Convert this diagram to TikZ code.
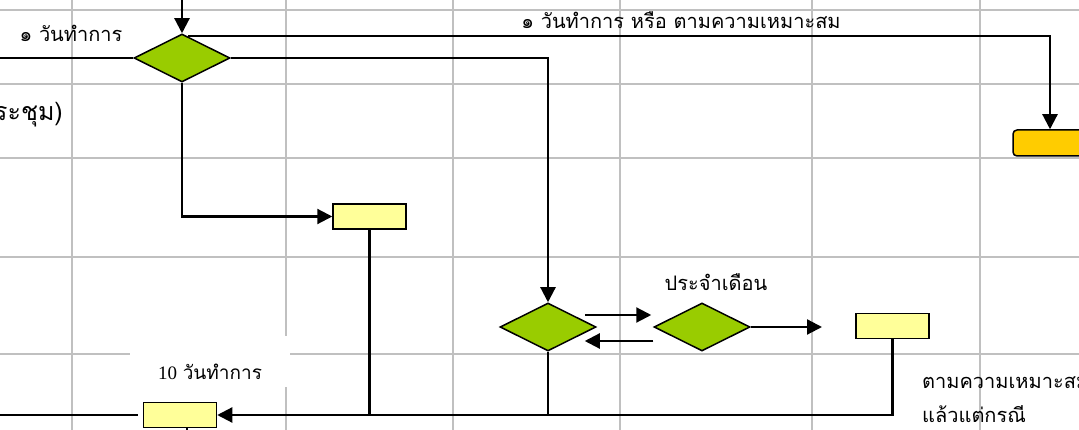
\documentclass[tikz,border=0pt]{standalone}
\usepackage{fontspec}
\newfontfamily\thaifont[Script=Thai]{Loma}
\newfontfamily\numfont{Liberation Serif}
\usepackage{tikz}
\usetikzlibrary{shapes.geometric,arrows.meta,calc}
\definecolor{gridgray}{HTML}{C0C0C0}
\definecolor{leafgreen}{HTML}{99CC00}
\definecolor{paleyellow}{HTML}{FFFF99}
\definecolor{goldbox}{HTML}{FFCC00}

\begin{document}
\begin{tikzpicture}[x=1pt,y=-1pt,
    decision/.style={diamond,draw,line width=1.5pt,fill=leafgreen,inner sep=0pt,minimum width=96pt,minimum height=48pt},
    taskbox/.style={rectangle,draw,line width=1.5pt,fill=paleyellow,inner sep=0pt,minimum width=73pt,minimum height=25pt},
    flow/.style={line width=2.2pt},
    arrowflow/.style={flow,-{Triangle[length=15pt,width=15pt]}},
    thailabel/.style={font=\thaifont\fontsize{20}{24}\selectfont,inner sep=0pt}]

        \clip (0,0) rectangle (1079,430);
        \useasboundingbox (0,0) rectangle (1079,430);

        % sheet grid
        \foreach \gx in {72,286,453,620,812,980}
            \draw[gridgray, line width=1.5pt] (\gx,0) -- (\gx,430);
        \foreach \gy in {10,84,158,257,354}
            \draw[gridgray, line width=1.5pt] (0,\gy) -- (1079,\gy);

        \coordinate (topin) at (182,0);
        \coordinate (leftin) at (0,58);
        \coordinate (leftout) at (0,415);
        \coordinate (monthout) at (822,327);

        \node[decision] (D1) at (182,58) {};
        \node[decision] (D2) at (548,327) {};
        \node[decision] (D3) at (702,327) {};

        \node[taskbox] (Y1) at (369.5,216.5) {};
        \node[taskbox] (Y2) at (892.5,326) {};
        \node[taskbox] (Y3) at (180,415) {};
        \node[rectangle, rounded corners=4pt, draw, line width=1.5pt, fill=goldbox, minimum width=74pt, minimum height=26pt] (O1) at (1050,143) {};

        % labels
        \node[thailabel] (lblday) at (71,33) {๑ วันทำการ};
        \node[thailabel] (lblfit) at (681,20) {๑ วันทำการ หรือ ตามความเหมาะสม};
        \node[thailabel] (lblmonth) at (716,282) {ประจำเดือน};
        \node[thailabel, font=\thaifont\fontsize{25}{30}\selectfont, anchor=east] (lblmeet) at (63,115) {ประชุม)};
        \node[thailabel, anchor=west, align=left, font=\thaifont\fontsize{20}{34}\selectfont] (lblcase) at (922,400) {ตามความเหมาะสม\\แล้วแต่กรณี};
        \node[fill=white, minimum width=160pt, inner sep=0pt, text height=43pt, text depth=8pt, anchor=base, font=\fontsize{19}{23}\selectfont] (lblten) at (210,379) {{\numfont 10} \thaifont วันทำการ};

        % connectors
        \draw[arrowflow] (topin) -- (D1.north);
        \draw[flow] (leftin) -- (D1.west);
        \draw[arrowflow] ($(D1.north)+(6,3)$) -| (O1.north);
        \draw[arrowflow] (D1.east) -| (D2.north);
        \draw[arrowflow] (D1.south) |- (Y1.west);
        \draw[flow] (Y1.south) -- (Y1.south |- Y3.east);

        \draw[arrowflow] ($(D2.east)+(-12,-12)$) -- ($(D3.west)+(-2,-12)$);
        \draw[arrowflow] ($(D3.west)+(0,14)$) -- ($(D2.east)+(-12,14)$);
        \draw[arrowflow] (D3.east) -- (monthout);

        \draw[flow] (D2.south) -- (D2.south |- Y3.east);
        \draw[arrowflow] (Y2.south) |- (Y3.east);
        \draw[flow, shorten >=5pt] (leftout) -- (Y3.west);
        \draw[flow] ($(Y3.south)+(7,0)$) -- ++(0,8);

    \end{tikzpicture}
\end{document}
